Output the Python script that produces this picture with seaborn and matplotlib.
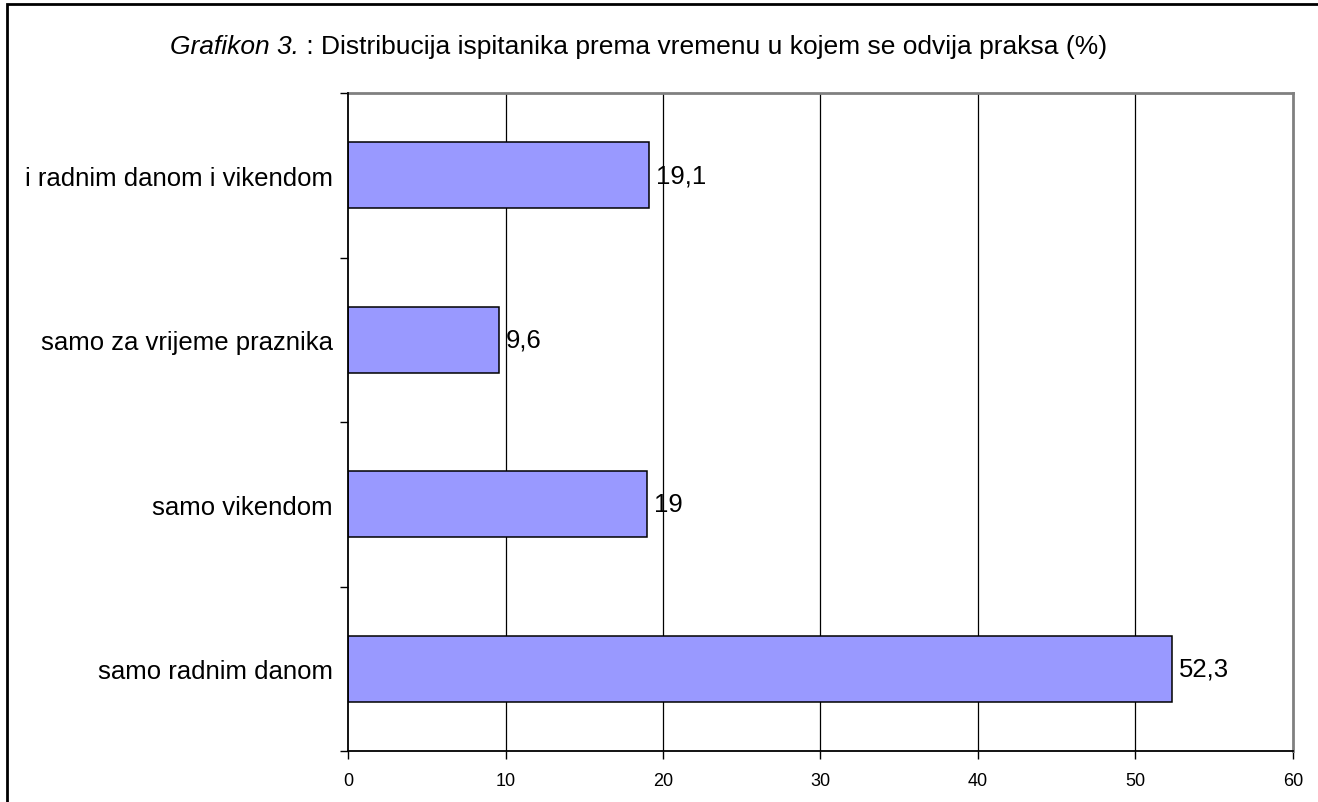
import matplotlib
matplotlib.use("Agg")
import matplotlib.pyplot as plt
import seaborn as sns
import pandas as pd
from matplotlib.patches import Rectangle

categories = ["i radnim danom i vikendom", "samo za vrijeme praznika", "samo vikendom", "samo radnim danom"]
values = [19.1, 9.6, 19.0, 52.3]
value_labels = ["19,1", "9,6", "19", "52,3"]
x_ticks = [0, 10, 20, 30, 40, 50, 60]

sns.set_theme(style="white")
plt.rcParams['font.family'] = ['Liberation Sans', 'DejaVu Sans']
plt.rcParams['text.color'] = 'black'
plt.rcParams['xtick.color'] = 'black'
plt.rcParams['ytick.color'] = 'black'

df = pd.DataFrame({"cat": categories, "val": values})

fig = plt.figure(figsize=(13.18, 8.03), dpi=100)
ax = fig.add_axes([348/1318, 1-752/803, (1293-348)/1318, (752-94)/803])

sns.barplot(data=df, x="val", y="cat", orient="h", color="#9999FF", saturation=1,
            width=0.4, edgecolor="black", linewidth=1.1, ax=ax, zorder=3)

ax.set_xlim(0, 60)
ax.set_ylim(3.5, -0.5)
ax.set_xticks(x_ticks)
ax.set_xticklabels([str(t) for t in x_ticks], fontsize=13, color="black")
ax.set_xlabel("")
ax.set_ylabel("")

# gridlines
for t in x_ticks[1:-1]:
    ax.axvline(t, color="black", linewidth=0.9, zorder=1)

ax.set_yticks(range(len(categories)))
ax.set_yticklabels(categories, fontsize=18.5, color="black")
ax.tick_params(axis="y", which="major", length=0, pad=11)
ax.set_yticks([-0.5, 0.5, 1.5, 2.5, 3.5], minor=True)
ax.tick_params(axis="y", which="minor", length=6, width=1, color="black", direction="out", left=True)
ax.tick_params(axis="x", which="major", length=6, width=1, color="black", direction="out", bottom=True, pad=9)

for side in ["top", "right"]:
    ax.spines[side].set_color("#808080")
    ax.spines[side].set_linewidth(2)
for side in ["left", "bottom"]:
    ax.spines[side].set_color("black")
    ax.spines[side].set_linewidth(1.3)
ax.spines["left"].set_zorder(5)

ax.bar_label(ax.containers[0], labels=value_labels, padding=5, fontsize=18.5, color="black")

# figure border
fig.patches.append(Rectangle((7/1318, -0.05), 1.1, 1-5/803+0.05, transform=fig.transFigure,
                             fill=False, edgecolor="black", linewidth=2))

# title with italic part
fig.canvas.draw()
renderer = fig.canvas.get_renderer()
t1 = fig.text(0, 1-47/803, "Grafikon 3.", fontsize=19, style="italic", va="center", ha="left", color="black")
t2 = fig.text(0, 1-47/803, " : Distribucija ispitanika prema vremenu u kojem se odvija praksa (%)",
              fontsize=19, va="center", ha="left", color="black")
w1 = t1.get_window_extent(renderer).width
w2 = t2.get_window_extent(renderer).width
total = w1 + w2
cx = 639
x0 = cx - total/2
t1.set_x(x0/1318)
t2.set_x((x0 + w1)/1318)

fig.savefig("out.png", dpi=100)
